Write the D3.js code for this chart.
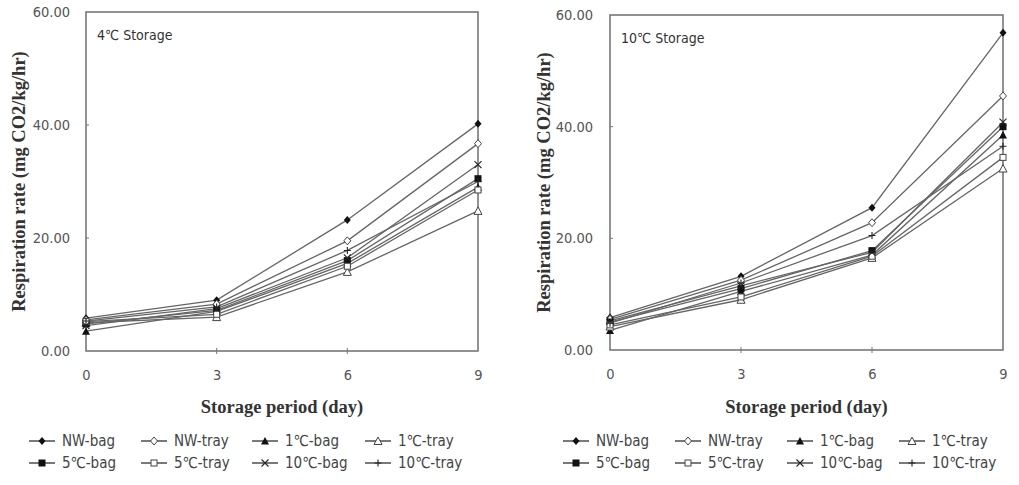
<!DOCTYPE html>
<html><head><meta charset="utf-8">
<script src="https://cdn.jsdelivr.net/npm/d3@7"></script>
<style>
html,body{margin:0;padding:0;background:#fff;}
svg{display:block;}
.tick-label{font-family:"DejaVu Sans Condensed","DejaVu Sans",sans-serif;font-stretch:condensed;font-size:14.5px;fill:#555;}
.leg{font-family:"DejaVu Sans Condensed","DejaVu Sans",sans-serif;font-stretch:condensed;font-size:15px;fill:#444;}
.title{font-family:"Liberation Serif","Times New Roman",serif;font-weight:bold;font-size:18.5px;fill:#333;}
.inner{font-family:"DejaVu Sans Condensed","DejaVu Sans",sans-serif;font-stretch:condensed;font-size:14px;fill:#333;}
</style>
</head><body>
<svg id="c" width="1019" height="485"></svg>
<script>
const days = [0, 3, 6, 9];
const yTicks = [0, 20, 40, 60];
const seriesNames = ["NW-bag", "NW-tray", "1℃-bag", "1℃-tray", "5℃-bag", "5℃-tray", "10℃-bag", "10℃-tray"];
const markerTypes = ["diamondFill", "diamondOpen", "triFill", "triOpen", "sqFill", "sqOpen", "cross", "plus"];
// 4℃ storage
const nwBag4   = [5.8, 9.0, 23.2, 40.2];
const nwTray4  = [5.5, 8.3, 19.5, 36.7];
const c1Bag4   = [3.5, 7.0, 15.5, 29.0];
const c1Tray4  = [5.0, 6.0, 14.0, 24.8];
const c5Bag4   = [4.8, 7.2, 16.0, 30.5];
const c5Tray4  = [5.2, 6.5, 15.0, 28.5];
const c10Bag4  = [4.5, 7.5, 16.5, 33.0];
const c10Tray4 = [5.3, 7.8, 17.8, 30.0];
// 10℃ storage
const nwBag10   = [5.8, 13.2, 25.5, 56.8];
const nwTray10  = [5.5, 12.5, 22.8, 45.5];
const c1Bag10   = [3.5, 10.5, 17.0, 38.5];
const c1Tray10  = [4.2, 9.0, 16.5, 32.5];
const c5Bag10   = [5.0, 11.0, 17.8, 40.0];
const c5Tray10  = [4.5, 9.5, 16.8, 34.5];
const c10Bag10  = [5.2, 11.5, 17.5, 40.8];
const c10Tray10 = [4.8, 12.0, 20.5, 36.5];

const data4 = [nwBag4, nwTray4, c1Bag4, c1Tray4, c5Bag4, c5Tray4, c10Bag4, c10Tray4];
const data10 = [nwBag10, nwTray10, c1Bag10, c1Tray10, c5Bag10, c5Tray10, c10Bag10, c10Tray10];

const svg = d3.select("#c");

function drawMarker(g, type, x, y) {
  const s = 3.5;
  const black = "#111";
  switch (type) {
    case "diamondFill":
      g.append("path").attr("d", `M${x},${y-s-0.5}L${x+s},${y}L${x},${y+s+0.5}L${x-s},${y}Z`).attr("fill", black); break;
    case "diamondOpen":
      g.append("path").attr("d", `M${x},${y-s-0.5}L${x+s},${y}L${x},${y+s+0.5}L${x-s},${y}Z`).attr("fill", "#fff").attr("stroke", "#444").attr("stroke-width", 1); break;
    case "triFill":
      g.append("path").attr("d", `M${x},${y-s-0.5}L${x+s+0.5},${y+s}L${x-s-0.5},${y+s}Z`).attr("fill", black); break;
    case "triOpen":
      g.append("path").attr("d", `M${x},${y-s-0.5}L${x+s+0.5},${y+s}L${x-s-0.5},${y+s}Z`).attr("fill", "#fff").attr("stroke", "#444").attr("stroke-width", 1); break;
    case "sqFill":
      g.append("rect").attr("x", x-s).attr("y", y-s).attr("width", 2*s).attr("height", 2*s).attr("fill", black); break;
    case "sqOpen":
      g.append("rect").attr("x", x-s+0.5).attr("y", y-s+0.5).attr("width", 2*s-1).attr("height", 2*s-1).attr("fill", "#fff").attr("stroke", "#444").attr("stroke-width", 1); break;
    case "cross":
      g.append("path").attr("d", `M${x-s},${y-s}L${x+s},${y+s}M${x-s},${y+s}L${x+s},${y-s}`).attr("stroke", "#222").attr("stroke-width", 1.1); break;
    case "plus":
      g.append("path").attr("d", `M${x},${y-s}L${x},${y+s}M${x-s},${y}L${x+s},${y}`).attr("stroke", "#222").attr("stroke-width", 1.1); break;
  }
}

function chart(cfg) {
  const x = d3.scaleLinear().domain([0, 9]).range([cfg.x0, cfg.x1]);
  const y = d3.scaleLinear().domain([0, 60]).range([cfg.yb, cfg.yt]);
  const g = svg.append("g");
  // frame
  g.append("rect").attr("x", cfg.x0).attr("y", cfg.yt).attr("width", cfg.x1 - cfg.x0).attr("height", cfg.yb - cfg.yt)
    .attr("fill", "none").attr("stroke", "#777").attr("stroke-width", 1.6);
  // y ticks
  const yAxis = d3.axisLeft(y).tickValues(yTicks).tickFormat(d3.format(".2f")).tickSize(0).tickPadding(cfg.x0 - cfg.ylabX);
  const ya = g.append("g").attr("transform", `translate(${cfg.x0},0)`).call(yAxis);
  ya.select(".domain").remove();
  ya.selectAll("text").attr("class", "tick-label").attr("font-family", null).attr("font-size", null).attr("fill", null);
  yTicks.slice(1, 3).forEach(t => {
    g.append("line").attr("x1", cfg.x0).attr("x2", cfg.x0 + 3).attr("y1", y(t)).attr("y2", y(t)).attr("stroke", "#777");
  });
  // x ticks
  const xAxis = d3.axisBottom(x).tickValues(days).tickFormat(d3.format("d")).tickSize(0).tickPadding(19);
  const xa = g.append("g").attr("transform", `translate(0,${cfg.yb})`).call(xAxis);
  xa.select(".domain").remove();
  xa.selectAll("text").attr("class", "tick-label").attr("font-family", null).attr("font-size", null).attr("fill", null);
  days.slice(1, 3).forEach(t => {
    g.append("line").attr("x1", x(t)).attr("x2", x(t)).attr("y1", cfg.yb - 3).attr("y2", cfg.yb + 3).attr("stroke", "#777");
  });
  // titles
  g.append("text").attr("class", "title").attr("x", (cfg.x0 + cfg.x1) / 2).attr("y", 413).attr("text-anchor", "middle").text("Storage period (day)");
  g.append("text").attr("class", "title").attr("transform", `translate(${cfg.ytitleX},${(cfg.yt + cfg.yb) / 2}) rotate(-90)`)
    .attr("text-anchor", "middle").text("Respiration rate (mg CO2/kg/hr)");
  g.append("text").attr("class", "inner").attr("x", cfg.x0 + 11).attr("y", cfg.yt + 28).text(cfg.label);
  // lines
  const line = d3.line().x((d, i) => x(days[i])).y(d => y(d));
  cfg.data.forEach(vals => {
    g.append("path").attr("d", line(vals)).attr("fill", "none").attr("stroke", "#666").attr("stroke-width", 1.3);
  });
  cfg.data.forEach((vals, si) => {
    vals.forEach((v, i) => drawMarker(g, markerTypes[si], x(days[i]), y(v)));
  });
  // legend
  const cols = cfg.legCols;
  seriesNames.forEach((n, i) => {
    const c = i % 4, r = Math.floor(i / 4);
    const lx = cols[c], ly = 441 + r * 22;
    g.append("line").attr("x1", lx).attr("x2", lx + 26).attr("y1", ly).attr("y2", ly).attr("stroke", "#222").attr("stroke-width", 1.2);
    drawMarker(g, markerTypes[i], lx + 13, ly);
    g.append("text").attr("class", "leg").attr("x", lx + 33).attr("y", ly + 5).text(n);
  });
}

chart({x0: 86, x1: 478, yt: 12, yb: 351, ylabX: 70, ytitleX: 25, label: "4℃  Storage", data: data4, legCols: [29, 141, 252, 365]});
chart({x0: 610, x1: 1003, yt: 15, yb: 350, ylabX: 593, ytitleX: 550, label: "10℃  Storage", data: data10, legCols: [563, 675, 787, 899]});
</script>
</body></html>
